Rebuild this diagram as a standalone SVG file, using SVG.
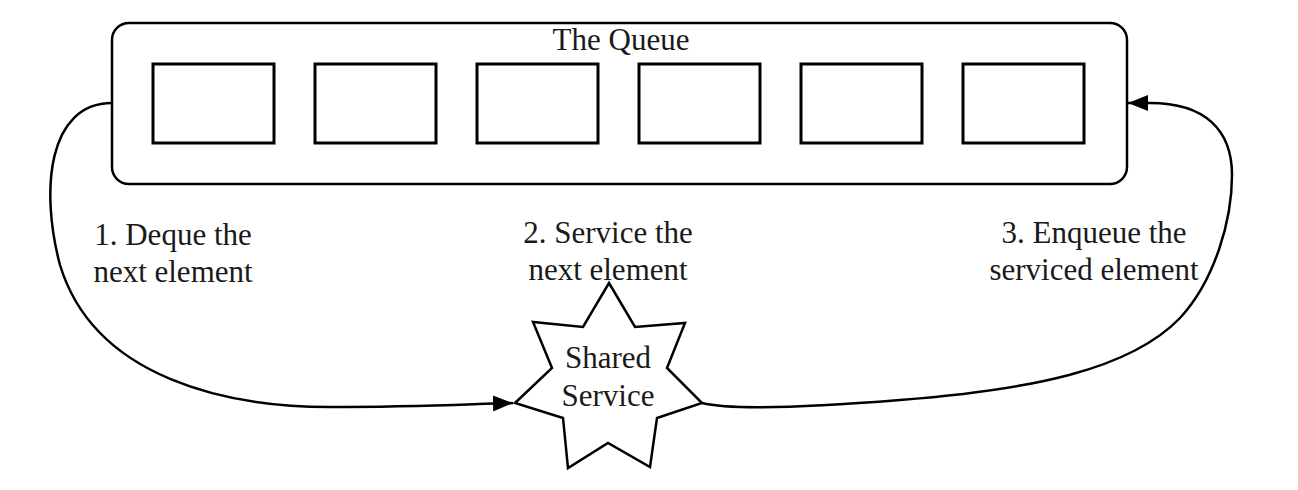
<svg xmlns="http://www.w3.org/2000/svg" width="1298" height="490" viewBox="0 0 1298 490">
<style>
.t{font-family:"Liberation Serif","Times New Roman",serif;font-size:31px;fill:#1a1a1a;text-anchor:middle}
.box{fill:#fff;stroke:#000;stroke-width:3}
.outer{fill:#fff;stroke:#000;stroke-width:2.5}
.conn{fill:none;stroke:#000;stroke-width:2.5}
</style>
<defs>
<marker id="arr" markerUnits="userSpaceOnUse" markerWidth="22" markerHeight="16" refX="20" refY="8" orient="auto">
<path d="M0,0 L20,8 L0,16 z" fill="#000"/>
</marker>
</defs>
<rect width="1298" height="490" fill="#fff"/>
<g id="queue">
<rect class="outer" x="112" y="23" width="1015" height="161" rx="17" ry="17"/>
<text class="t" x="621" y="50">The Queue</text>
<rect class="box" x="153" y="64" width="121" height="79"/>
<rect class="box" x="315" y="64" width="121" height="79"/>
<rect class="box" x="477" y="64" width="121" height="79"/>
<rect class="box" x="639" y="64" width="121" height="79"/>
<rect class="box" x="801" y="64" width="121" height="79"/>
<rect class="box" x="963" y="64" width="121" height="79"/>
</g>
<g id="service">
<polygon fill="#fff" stroke="#000" stroke-width="2.5" stroke-linejoin="miter" points="609,283 635,327 685,323 667,368 702,403 657,418 650,467 608,443 568,468 563,418 515,403 552,368 533,322 583,327"/>
<text class="t" x="608" y="368">Shared</text>
<text class="t" x="608" y="406">Service</text>
</g>
<g id="connectors">
<path class="conn" d="M112,103 C48,103 40,190 60,265 C95,380 230,407 330,407 C420,407 470,404 513,403" marker-end="url(#arr)"/>
<path class="conn" d="M702,403 C730,410 800,408 900,400 C1030,390 1130,370 1180,318 C1215,280 1232,220 1232,175 C1232,130 1205,103 1150,103 L1128,103" marker-end="url(#arr)"/>
</g>
<g id="labels">
<text class="t" x="173" y="245">1. Deque the</text>
<text class="t" x="173" y="282">next element</text>
<text class="t" x="608" y="243">2. Service the</text>
<text class="t" x="608" y="280">next element</text>
<text class="t" x="1094" y="243">3. Enqueue the</text>
<text class="t" x="1094" y="280">serviced element</text>
</g>
</svg>
